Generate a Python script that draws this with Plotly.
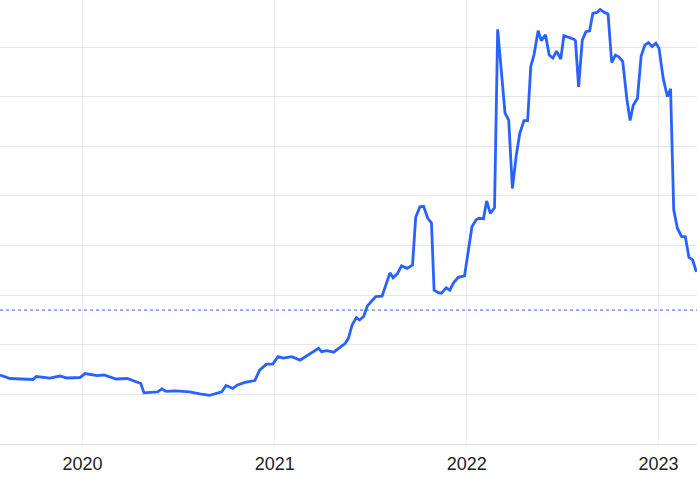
import plotly.graph_objects as go

dates = [
    "2019-07-28", "2019-08-16", "2019-09-29", "2019-10-05", "2019-10-31", "2019-11-19", "2019-12-03", "2019-12-27",
    "2020-01-06", "2020-01-29", "2020-02-11", "2020-03-05", "2020-03-26", "2020-04-06", "2020-04-21", "2020-04-27",
    "2020-05-23", "2020-05-31", "2020-06-08", "2020-06-25", "2020-07-23", "2020-08-11", "2020-08-30", "2020-09-22",
    "2020-09-30", "2020-10-13", "2020-10-22", "2020-11-05", "2020-11-24", "2020-12-03", "2020-12-16", "2020-12-28",
    "2021-01-07", "2021-01-17", "2021-02-02", "2021-02-18", "2021-03-09", "2021-03-25", "2021-03-31", "2021-04-10",
    "2021-04-23", "2021-05-06", "2021-05-15", "2021-05-21", "2021-05-28", "2021-06-05", "2021-06-11", "2021-06-19",
    "2021-06-26", "2021-07-12", "2021-07-24", "2021-08-08", "2021-08-14", "2021-08-22", "2021-08-30", "2021-09-10",
    "2021-09-20", "2021-09-26", "2021-10-04", "2021-10-11", "2021-10-19", "2021-10-26", "2021-10-31", "2021-11-08",
    "2021-11-14", "2021-11-23", "2021-11-30", "2021-12-07", "2021-12-16", "2021-12-28",
    "2022-01-11", "2022-01-19", "2022-01-25", "2022-02-02", "2022-02-08", "2022-02-15", "2022-02-23", "2022-03-01",
    "2022-03-07", "2022-03-15", "2022-03-22", "2022-03-29", "2022-04-05", "2022-04-12", "2022-04-20", "2022-04-27",
    "2022-05-03", "2022-05-09", "2022-05-17", "2022-05-23", "2022-05-31", "2022-06-07", "2022-06-14", "2022-06-21",
    "2022-06-29", "2022-07-05", "2022-07-24", "2022-07-27", "2022-08-02", "2022-08-09", "2022-08-16", "2022-08-23",
    "2022-08-29", "2022-09-06", "2022-09-12", "2022-09-20", "2022-09-27", "2022-10-04", "2022-10-11", "2022-10-18",
    "2022-10-25", "2022-11-02", "2022-11-08", "2022-11-14", "2022-11-22", "2022-11-29", "2022-12-06", "2022-12-13",
    "2022-12-20", "2022-12-27",
    "2023-01-02", "2023-01-10", "2023-01-18", "2023-01-24", "2023-01-30", "2023-02-06", "2023-02-14", "2023-02-21",
    "2023-02-28", "2023-03-07", "2023-03-14",
]

values = [
    139, 132, 130, 136, 133, 137, 133, 134,
    142, 138, 139, 131, 132, 128, 122, 103,
    105, 111, 106, 107, 105, 101, 98, 105,
    118, 112, 119, 124, 128, 149, 161, 161,
    176, 173, 176, 169, 183, 193, 186, 188,
    185, 196, 203, 213, 240, 255, 250, 257,
    278, 297, 298, 345, 335, 343, 359, 354,
    361, 457, 478, 479, 455, 446, 310, 305,
    304, 315, 310, 325, 336, 339,
    438, 452, 455, 454, 490, 465, 476, 836,
    761, 667, 653, 515, 579, 626, 652, 652,
    761, 784, 833, 813, 825, 784, 778, 792,
    776, 823, 816, 813, 720, 814, 831, 833,
    868, 870, 876, 870, 867, 769, 784, 780,
    771, 694, 652, 683, 697, 782, 804, 809,
    801, 808,
    798, 737, 700, 716, 472, 435, 418, 418,
    376, 371, 347,
]

reference_level = 270
x_range = ["2019-07-28", "2023-03-15 07:00"]
y_range = [0, 895]
tick_vals = ["2020-01-01", "2021-01-01", "2022-01-01", "2023-01-01"]
tick_text = ["2020", "2021", "2022", "2023"]

fig = go.Figure()
fig.add_trace(go.Scatter(
    x=dates, y=values, mode="lines",
    line=dict(color="#2962ff", width=2.8),
    hoverinfo="skip", showlegend=False,
))
fig.add_hline(y=reference_level, line=dict(color="#2962ff", width=1, dash="dot"))

fig.update_layout(
    width=697, height=477,
    margin=dict(l=0, r=0, t=0, b=33),
    paper_bgcolor="white", plot_bgcolor="white",
    showlegend=False,
    font=dict(family="Liberation Sans, Arial, sans-serif", color="#222222"),
)
fig.update_xaxes(
    type="date", range=x_range,
    tickvals=tick_vals, ticktext=tick_text,
    showgrid=True, gridcolor="#eef2f8", gridwidth=1,
    showline=True, linecolor="#e0e0e0", linewidth=1,
    ticks="outside", ticklen=3, tickcolor="rgba(0,0,0,0)",
    tickfont=dict(size=18, color="#222222"),
    zeroline=False,
)
fig.update_yaxes(
    range=y_range, dtick=100, tick0=0,
    showgrid=True, gridcolor="#e6e6e6", gridwidth=1,
    showticklabels=False, zeroline=False, showline=False,
)

fig.write_html(
    "out.html",
    config={"displayModeBar": False, "staticPlot": True},
    post_script="document.body.style.margin='0px';document.body.style.overflow='hidden';",
)
